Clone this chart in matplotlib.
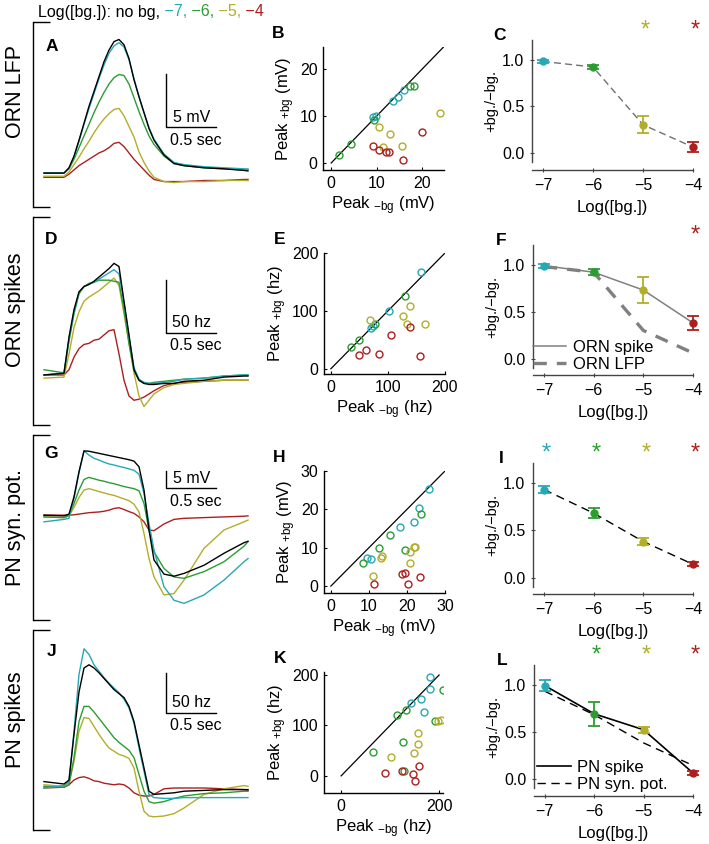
import numpy as np
import matplotlib.pyplot as plt
from matplotlib import transforms

plt.rcParams['font.family'] = ['Liberation Sans', 'DejaVu Sans']
plt.rcParams['mathtext.default'] = 'regular'

W, H = 709, 844

# colours: no bg, -7, -6, -5, -4
colors = ['black', '#27a8b5', '#2b9c32', '#b2ae2a', '#ad1f1f']
conc = [-7, -6, -5, -4]

# ---------------- traces (time in s) ----------------
t = [0, 0.2, 0.25, 0.3, 0.35, 0.4, 0.45, 0.5, 0.55, 0.6, 0.65, 0.7, 0.75, 0.8,
     0.85, 0.9, 0.95, 1.0, 1.05, 1.1, 1.2, 1.3, 1.4, 1.6, 1.8, 2.0, 2.04]

# ORN LFP (mV)
lfp_nobg = [0, 0, 0.5, 1.6, 3.1, 4.7, 6.3, 7.7, 9.1, 10.5, 11.6, 12.4, 12.6, 12.1, 10.8, 8.8, 7.2, 5.7, 4.2, 3.1, 1.7, 0.9, 0.7, 0.5, 0.4, 0.25, 0.2]
lfp_m7 = [0, 0, 0.45, 1.5, 3.0, 4.6, 6.1, 7.5, 8.9, 10.2, 11.3, 12.0, 12.3, 11.9, 10.7, 8.9, 7.2, 5.7, 4.3, 3.2, 1.8, 1.0, 0.8, 0.6, 0.5, 0.4, 0.4]
lfp_m6 = [0, 0, 0.4, 1.3, 2.4, 3.5, 4.6, 5.7, 6.7, 7.6, 8.4, 9.0, 9.3, 9.2, 8.4, 7.1, 5.8, 4.6, 3.5, 2.7, 1.6, 0.9, 0.7, 0.5, 0.4, 0.3, 0.3]
lfp_m5 = [-0.3, -0.3, 0.1, 0.8, 1.5, 2.3, 3.0, 3.8, 4.5, 5.1, 5.6, 6.0, 6.1, 5.4, 4.4, 3.4, 2.0, 1.0, 0.2, -0.4, -0.8, -0.9, -0.8, -0.8, -0.7, -0.7, -0.7]
lfp_m4 = [-0.4, -0.4, -0.1, 0.3, 0.7, 1.0, 1.3, 1.6, 1.9, 2.1, 2.4, 2.8, 2.9, 2.5, 1.9, 1.3, 0.8, 0.3, -0.2, -0.6, -0.8, -0.8, -0.8, -0.7, -0.7, -0.6, -0.6]

# ORN spikes (hz)
orn_nobg = [0, 1.6, 36, 62, 79, 84, 86, 89, 93, 97, 101, 106, 103, 70, 38, 5, -5, -8, -9, -9, -8, -8, -6, -5, -2, -1, -1]
orn_m7 = [0, 2, 34, 60, 78, 84, 86, 88, 91, 94, 97, 100, 96, 68, 36, 7, -4, -7, -8, -8, -7, -6, -4, -3, -1, 0, 0]
orn_m6 = [5, 2, 32, 58, 77, 84, 87, 88, 90, 90, 90, 89, 88, 62, 30, 4, -5, -8, -8, -7, -6, -5, -4, -3, -1, 0, 0]
orn_m5 = [-3, -2, 20, 45, 60, 70, 74, 77, 80, 84, 88, 92, 85, 58, 30, 2, -20, -30, -24, -18, -12, -9, -8, -6, -5, -5, -5]
orn_m4 = [0, 0, 5, 17, 25, 29, 30, 33, 34, 38, 42, 43, 20, -5, -20, -24, -23, -21, -18, -15, -10, -8, -7, -6, -5, -5, -5]

# PN synaptic potential (mV)
syn_nobg = [0, -0.2, 0.3, 5.2, 12.3, 18.2, 18.1, 17.8, 17.5, 17.2, 16.9, 16.6, 16.3, 16.0, 15.7, 15.3, 13.7, 7.1, -4.2, -12.7, -16.7, -17.3, -16.5, -14.2, -10.8, -7.8, -7.4]
syn_m7 = [-1.9, -1.2, -0.9, 4.7, 12.0, 18.2, 17.0, 16.1, 15.6, 15.0, 14.5, 14.2, 13.8, 13.5, 13.1, 12.7, 11.6, 6.1, -2.4, -9.9, -20.3, -24.1, -25.0, -22.6, -18.4, -13.2, -12.3]
syn_m6 = [-0.5, -0.7, -0.1, 3.3, 7.1, 10.1, 10.7, 10.3, 9.9, 9.6, 9.2, 8.9, 8.5, 8.1, 7.8, 7.5, 6.9, 3.3, -4.2, -10.4, -15.1, -17.5, -17.9, -16.0, -13.2, -8.8, -7.5]
syn_m5 = [-0.5, -0.7, -0.2, 2.2, 5.0, 7.1, 7.5, 7.1, 6.7, 6.3, 5.9, 5.6, 5.1, 4.6, 4.1, 3.1, 0.9, -5.2, -12.3, -17.5, -22.6, -22.2, -18.4, -9.4, -4.2, -1.9, -1.4]
syn_m4 = [0, 0, 0, 0.1, 0.3, 0.5, 0.7, 0.8, 0.9, 1.1, 1.4, 1.9, 2.1, 1.6, 1.0, 0.5, -0.5, -1.9, -4.2, -4.4, -2.5, -1.2, -0.9, -0.7, -0.5, -0.3, -0.2]

# PN spikes (hz)
pn_nobg = [8, 5, 10, 67, 120, 150, 154, 150, 144, 137, 130, 123, 118, 113, 102, 83, 54, 25, -4, -8, -7, -6, -4, -3, -2, -2, -2]
pn_m7 = [0, 3, 8, 71, 142, 174, 167, 154, 146, 138, 131, 125, 119, 111, 100, 81, 50, 21, -8, -12, -13, -13, -12, -12, -12, -12, -12]
pn_m6 = [2, 1, 4, 38, 83, 102, 102, 95, 87, 79, 71, 63, 57, 52, 47, 38, 17, -4, -17, -19, -17, -13, -10, -7, -6, -4, -4]
pn_m5 = [4, 2, 6, 33, 71, 88, 87, 77, 67, 58, 50, 46, 42, 40, 37, 25, -4, -29, -35, -36, -35, -32, -25, -8, -1, 3, 2]
pn_m4 = [0, 1, 4, 10, 13, 14, 12, 9, 8, 6, 5, 4, 5, 4, 0, -6, -9, -10, -10, -8, -1, 0, 0, 0, -1, -2, -3]

# ---------------- peak scatter (-bg, +bg) ----------------
# ORN LFP (mV)
b_x = [[9.2, 9.8, 13.5, 14.6, 16.0], [1.8, 4.4, 9.5, 17.4, 18.1],
       [10.6, 11.3, 13.0, 15.5, 23.9], [9.3, 10.5, 12.0, 12.7, 15.8, 19.9]]
b_y = [[9.7, 10.0, 13.2, 14.1, 15.5], [1.8, 4.0, 9.1, 16.4, 16.3],
       [7.7, 3.4, 6.1, 3.6, 10.6], [3.6, 2.8, 2.3, 2.3, 0.6, 6.5]]
# ORN spikes (hz)
e_x = [[71, 74, 102, 158], [36, 49, 78, 130],
       [68, 126, 139, 133, 165], [49, 61, 85, 105, 139, 157]]
e_y = [[71, 74, 100, 167], [37, 50, 78, 125],
       [84, 92, 109, 77, 77], [23, 32, 26, 58, 72, 22]]
# PN syn. pot. (mV)
h_x = [[9.6, 10.5, 18.3, 21.8, 23.1, 25.9], [8.5, 12.6, 15.6, 19.4, 23.6],
       [11.1, 13.3, 13.5, 20.9, 21.8, 22.1, 20.9], [11.4, 18.7, 19.6, 20.4, 23.5]]
h_y = [[7.2, 7.0, 15.5, 16.6, 20.4, 25.2], [6.0, 9.9, 13.4, 9.3, 18.7],
       [2.7, 7.4, 7.9, 9.0, 10.2, 10.2, 6.0], [0.6, 3.1, 3.5, 0.5, 2.5]]
# PN spikes (hz)
k_x = [[182, 181, 163, 142, 170], [65, 127, 115, 132, 192, 209, 128],
       [101, 148, 156, 157, 198, 203], [90, 125, 146, 151, 160]]
k_y = [[197, 173, 153, 144, 127], [48, 67, 120, 130, 109, 171, 10],
       [38, 46, 85, 64, 109, 110], [5, 10, 3, -11, 19]]

# ---------------- +bg/-bg ratios ----------------
lfp_ratio = [0.98, 0.92, 0.30, 0.06]
lfp_err = [0.02, 0.02, 0.09, 0.05]
orn_ratio = [0.99, 0.92, 0.73, 0.38]
orn_err = [0.02, 0.03, 0.14, 0.07]
syn_ratio = [0.93, 0.68, 0.38, 0.14]
syn_err = [0.04, 0.05, 0.04, 0.02]
pn_ratio = [0.99, 0.69, 0.52, 0.06]
pn_err = [0.06, 0.13, 0.03, 0.02]
stars_c = [-5, -4]
stars_f = [-4]
stars_i = [-7, -6, -5, -4]
stars_l = [-6, -5, -4]

fig = plt.figure(figsize=(W / 100, H / 100), dpi=100)


def box(l, tp, r, b):
    return [l / W, 1 - b / H, (r - l) / W, (b - tp) / H]


def trace_panel(rect, traces, ylim, bar_base, bar_h, bar_lbl, letter, letter_y):
    ax = fig.add_axes(rect)
    for y, c in list(zip(traces, colors))[::-1]:
        ax.plot(t, y, color=c, lw=1.0)
    ax.set_xlim(-0.11, 2.06)
    ax.set_ylim(ylim)
    for s in ['top', 'right', 'bottom']:
        ax.spines[s].set_visible(False)
    ax.spines['left'].set_linewidth(1.0)
    ax.set_xticks([])
    ax.set_yticks(ylim)
    ax.tick_params(axis='y', direction='in', length=12, width=1, labelleft=False)
    # scale bar
    ax.plot([1.22, 1.22, 1.72], [bar_base + bar_h, bar_base, bar_base], color='black', lw=1)
    ax.annotate(bar_lbl, (1.48, bar_base), xytext=(0, 2), textcoords='offset points',
                ha='center', va='bottom', fontsize=11.5)
    ax.annotate('0.5 sec', (1.52, bar_base), xytext=(0, -4), textcoords='offset points',
                ha='center', va='top', fontsize=11.5)
    ax.text(0.085, letter_y, letter, transform=ax.transAxes, fontsize=12.5,
            fontweight='bold', ha='center', va='center')
    return ax


def scatter_panel(rect, xs, ys, xlim, ylim, xticks, yticks, unit, diag, letter):
    ax = fig.add_axes(rect)
    ax.plot([0, diag], [0, diag], color='black', lw=0.9)
    for gx, gy, c in zip(xs, ys, colors[1:]):
        ax.plot(gx, gy, 'o', mfc='none', mec=c, ms=5, mew=1.0)
    ax.set_xlim(xlim)
    ax.set_ylim(ylim)
    ax.set_xticks(xticks)
    ax.set_yticks(yticks)
    for s in ['top', 'right']:
        ax.spines[s].set_visible(False)
    for s in ['left', 'bottom']:
        ax.spines[s].set_linewidth(1.0)
    ax.tick_params(direction='in', length=2.5, labelsize=11.5, pad=4)
    ax.set_xlabel('Peak $_{-bg}$ (' + unit + ')', fontsize=12, labelpad=3)
    ax.set_ylabel('Peak $_{+bg}$ (' + unit + ')', fontsize=12, labelpad=2)
    ax.text(-0.37, 1.11, letter, transform=ax.transAxes, fontsize=12.5,
            fontweight='bold', ha='center', va='center')
    return ax


def ratio_panel(rect, vals, errs, stars, letter, offset):
    ax = fig.add_axes(rect)
    for x, v, e, c in zip(conc, vals, errs, colors[1:]):
        eb = ax.errorbar([x], [v], yerr=[e], fmt='o', color=c, ms=5, capsize=4,
                         elinewidth=1.3, capthick=1.3, zorder=5)
        for art in eb.get_children():
            art.set_clip_on(False)
        eb.lines[0].set_clip_on(False)
    ax.set_xlim(-7.22, -4.0)
    ax.set_ylim(-0.1, 1.21)
    ax.set_xticks(conc)
    ax.set_yticks([0, 0.5, 1.0])
    ax.set_yticklabels(['0.0', '0.5', '1.0'])
    for s in ['top', 'right']:
        ax.spines[s].set_visible(False)
    for s in ['left', 'bottom']:
        ax.spines[s].set_linewidth(1.0)
        ax.spines[s].set_color('#444444')
    ax.spines['bottom'].set_position(('outward', offset))
    ax.tick_params(direction='inout', length=3, labelsize=11.5, pad=4, color='#444444')
    ax.set_xlabel('Log([bg.])', fontsize=12, labelpad=5)
    ax.set_ylabel('+bg./\u2212bg.', fontsize=10.5, labelpad=3)
    tr = transforms.blended_transform_factory(ax.transData, ax.transAxes)
    for x in stars:
        ax.text(x + 0.05, 1.08, '*', transform=tr, color=colors[conc.index(x) + 1],
                fontsize=17, ha='center', va='center')
    ax.text(-0.2, 1.04, letter, transform=ax.transAxes, fontsize=12.5,
            fontweight='bold', ha='center', va='center')
    return ax


# ---- column 1: traces ----
axA = trace_panel(box(33, 22, 250, 207), [lfp_nobg, lfp_m7, lfp_m6, lfp_m5, lfp_m4],
                  (-3.2, 14.25), 4.3, 5, '5 mV', 'A', 0.865)
trace_panel(box(33, 217, 250, 425), [orn_nobg, orn_m7, orn_m6, orn_m5, orn_m4],
            (-47.5, 150), 40, 50, '50 hz', 'D', 0.894)
trace_panel(box(33, 435, 250, 620), [syn_nobg, syn_m7, syn_m6, syn_m5, syn_m4],
            (-29.7, 22.7), 7.6, 5, '5 mV', 'G', 0.90)
trace_panel(box(33, 630, 250, 830), [pn_nobg, pn_m7, pn_m6, pn_m5, pn_m4],
            (-52.5, 197.5), 94, 50, '50 hz', 'J', 0.89)

# ---- column 2: peaks ----
scatter_panel(box(323, 47, 444, 170), b_x, b_y, (-1.8, 24.8), (-1.5, 24.7),
              [0, 10, 20], [0, 10, 20], 'mV', 24.8, 'B')
scatter_panel(box(324, 253, 445, 374), e_x, e_y, (-12, 200), (-9, 200),
              [0, 100, 200], [0, 100, 200], 'hz', 200, 'E')
scatter_panel(box(324, 471, 445, 593), h_x, h_y, (-1.8, 30), (-1.8, 30),
              [0, 10, 20, 30], [0, 10, 20, 30], 'mV', 30, 'H')
scatter_panel(box(324, 672, 443, 793), k_x, k_y, (-35, 208), (-34, 206),
              [0, 200], [0, 100, 200], 'hz', 200, 'K')

# ---- column 3: ratios ----
axC = ratio_panel(box(532, 40, 693, 162), lfp_ratio, lfp_err, stars_c, 'C', 6)
axC.plot(conc, lfp_ratio, color='#707070', lw=1, dashes=(5, 3), zorder=2)

axF = ratio_panel(box(533, 245, 693, 368), orn_ratio, orn_err, stars_f, 'F', 5)
axF.plot(conc, orn_ratio, color='#808080', lw=1.1, zorder=2, label='ORN spike')
axF.plot(conc, lfp_ratio, color='#808080', lw=2.4, dashes=(4, 3), zorder=2, label='ORN LFP')
axF.legend(loc='lower left', bbox_to_anchor=(0, -0.03), frameon=False, fontsize=12,
           handlelength=2.0, handletextpad=0.4, labelspacing=0.1, borderpad=0,
           borderaxespad=0)

axI = ratio_panel(box(533, 463, 693, 587), syn_ratio, syn_err, stars_i, 'I', 5)
axI.plot(conc, syn_ratio, color='black', lw=1, dashes=(6, 4), zorder=2)

axL = ratio_panel(box(534, 665, 693, 788), pn_ratio, pn_err, stars_l, 'L', 6)
axL.plot(conc, pn_ratio, color='black', lw=1.2, zorder=2, label='PN spike')
axL.plot(conc, syn_ratio, color='black', lw=1, dashes=(6, 4), zorder=2, label='PN syn. pot.')
axL.legend(loc='lower left', bbox_to_anchor=(0.02, -0.03), frameon=False, fontsize=12,
           handlelength=2.0, handletextpad=0.4, labelspacing=0.1, borderpad=0,
           borderaxespad=0)

# ---- row labels ----
for lbl, yc in [('ORN LFP', 92), ('ORN spikes', 310), ('PN syn. pot.', 528), ('PN spikes', 720)]:
    fig.text(16 / W, 1 - yc / H, lbl, rotation=90, fontsize=15.5, ha='center', va='center')

# ---- colour key ----
txt = fig.text(38 / W, 1 - 12 / H, 'Log([bg.]): no bg,', fontsize=11.5, va='center')
for s, c in zip([' \u22127,', ' \u22126,', ' \u22125,', ' \u22124'], colors[1:]):
    txt = axA.annotate(s, xy=(1, 0), xycoords=txt, va='bottom', ha='left',
                       color=c, fontsize=11.5, annotation_clip=False)

fig.savefig('out.png', dpi=100)
